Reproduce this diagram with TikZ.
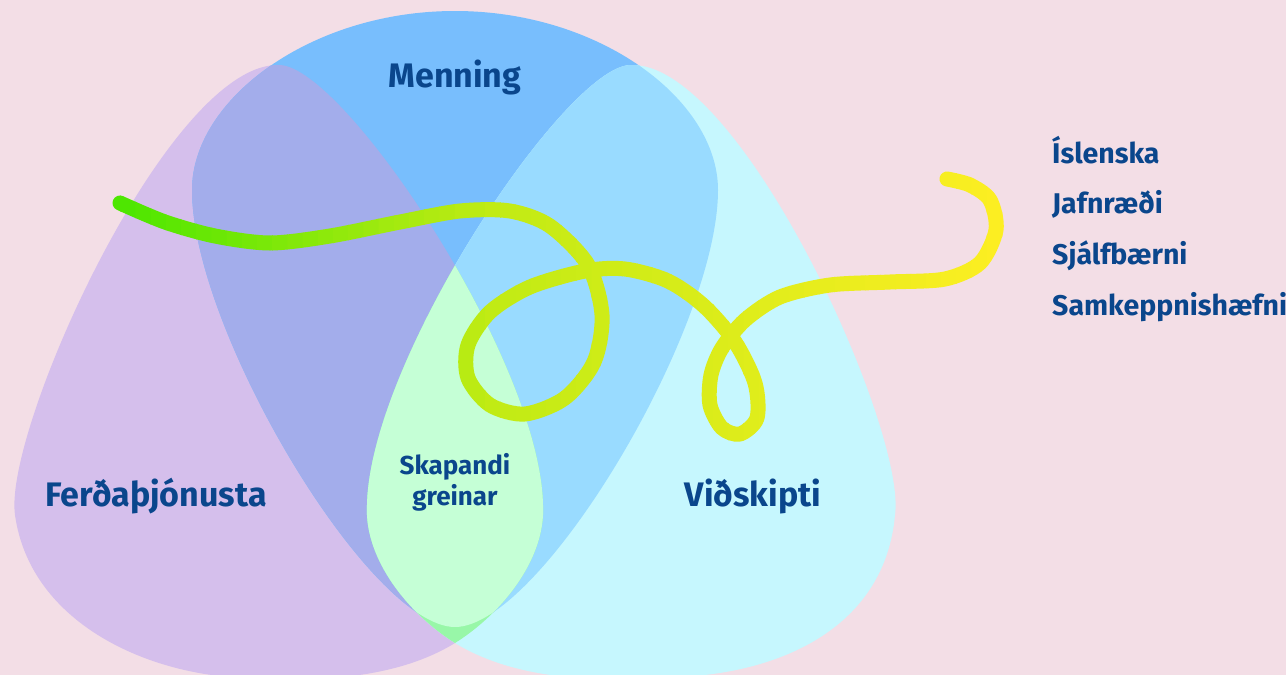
\documentclass[tikz,border=0pt]{standalone}
\usepackage{fontspec}
\setmainfont{Fira Sans}
\usepackage{tikz}
\usetikzlibrary{math}
\usetikzlibrary{positioning}
\definecolor{bgpink}{HTML}{F3DEE6}
\definecolor{tourfill}{HTML}{D5BFEC}
\definecolor{culturefill}{HTML}{78BEFD}
\definecolor{tradefill}{HTML}{C6F7FE}
\definecolor{tourculture}{HTML}{A3ADEB}
\definecolor{culturetrade}{HTML}{99DBFF}
\definecolor{tourtrade}{HTML}{98F7A8}
\definecolor{creative}{HTML}{C5FFD6}
\definecolor{labelblue}{HTML}{0A468C}
\definecolor{waveA}{HTML}{4CE600}
\definecolor{waveB}{HTML}{C0EB14}
\definecolor{waveC}{HTML}{FDEE22}
% outlines of the three sets (pixel units, y down)
\def\tourpath{(280,65) .. controls (345,68) and (540,360) .. (543,505)
  .. controls (546,560) and (500,615) .. (455,643)
  .. controls (390,683) and (300,682) .. (230,677)
  .. controls (140,670) and (30,620) .. (15,515)
  .. controls (3,430) and (170,60) .. cycle}
\def\tradepath{(630,65) .. controls (565,68) and (370,360) .. (367,505)
  .. controls (364,560) and (410,615) .. (455,643)
  .. controls (520,683) and (610,682) .. (680,677)
  .. controls (785,672) and (885,625) .. (895,515)
  .. controls (907,430) and (740,60) .. cycle}
\def\culturepath{(455,11) .. controls (600,11) and (718,100) .. (718,190)
  .. controls (718,330) and (540,627) .. (455,627)
  .. controls (370,627) and (192,330) .. (192,190)
  .. controls (192,100) and (310,11) .. cycle}
\def\wavepath{plot[smooth] coordinates {(120,203) (165,222) (215,236) (270,243) (330,236) (400,222) (460,211) (510,211) (550,226) (588,265) (602,315) (594,362) (565,398) (525,414) (490,405) (468,378) (468,345) (490,312) (530,287) (585,271) (625,269) (668,281) (704,306) (735,342) (755,383) (757,418) (740,434) (722,428) (710,405) (711,375) (722,348) (745,320) (780,297) (830,285) (890,282) (945,279) (980,263) (996,230) (990,200) (970,185) (947,179)}}

\begin{document}
\begin{tikzpicture}[x=1pt, y=-1pt,
  biglabel/.style={text=labelblue, font=\fontsize{34}{40}\selectfont\bfseries, inner sep=0pt},
  midlabel/.style={text=labelblue, font=\fontsize{26}{31}\selectfont\bfseries, inner sep=0pt},
  listlabel/.style={text=labelblue, font=\fontsize{28.5}{34}\selectfont\bfseries, inner sep=0pt},
  wave/.style={line width=15pt, line cap=round, line join=round}]

  \useasboundingbox (0,0) rectangle (1286,675);
  \fill[bgpink] (0,0) rectangle (1286,675);

  % the three sets
  \fill[tourfill] \tourpath;
  \fill[culturefill] \culturepath;
  \fill[tradefill] \tradepath;

  % overlaps
  \begin{scope}
    \clip \tourpath;
    \fill[tourculture] \culturepath;
  \end{scope}
  \begin{scope}
    \clip \culturepath;
    \fill[culturetrade] \tradepath;
  \end{scope}
  \begin{scope}
    \clip \tourpath;
    \fill[tourtrade] \tradepath;
  \end{scope}
  \begin{scope}
    \clip \tourpath;
    \clip \culturepath;
    \fill[creative] \tradepath;
  \end{scope}

  % wavy line, coloured strip by strip
  \foreach \i in {0, ..., 24} {
    \tikzmath{
      \xa = 105 + \i*15.2;
      \p = int(min(100, max(0, (\xa + 7.5 - 118)/3.67)));
    }
    \begin{scope}
      \clip (\xa, 100) rectangle ++(15.8, 400);
      \draw [wave, waveB!\p!waveA] \wavepath;
    \end{scope}
  }
  \foreach \i in {0, ..., 34} {
    \tikzmath{
      \xa = 485 + \i*15.2;
      \p = int(min(100, max(0, (\xa + 7.5 - 485)/5.15)));
    }
    \begin{scope}
      \clip (\xa, 100) rectangle ++(15.8, 400);
      \draw [wave, waveC!\p!waveB] \wavepath;
    \end{scope}
  }

  % labels
  \node[biglabel, anchor=base] (culture) at (455, 87) {Menning};
  \node[biglabel, anchor=base] (tourism) at (156, 506) {Ferðaþjónusta};
  \node[biglabel, anchor=base] (trade) at (753, 506) {Viðskipti};
  \node[midlabel, anchor=base, align=center] (creative) at (455, 505) {Skapandi\\greinar};

  \foreach \w [count=\i] in {Íslenska, Jafnræði, Sjálfbærni, Samkeppnishæfni} {
    \node[listlabel, anchor=base west] (value\i) at (1052, {163 + 50.7*(\i-1)}) {\w};
  }
\end{tikzpicture}
\end{document}
